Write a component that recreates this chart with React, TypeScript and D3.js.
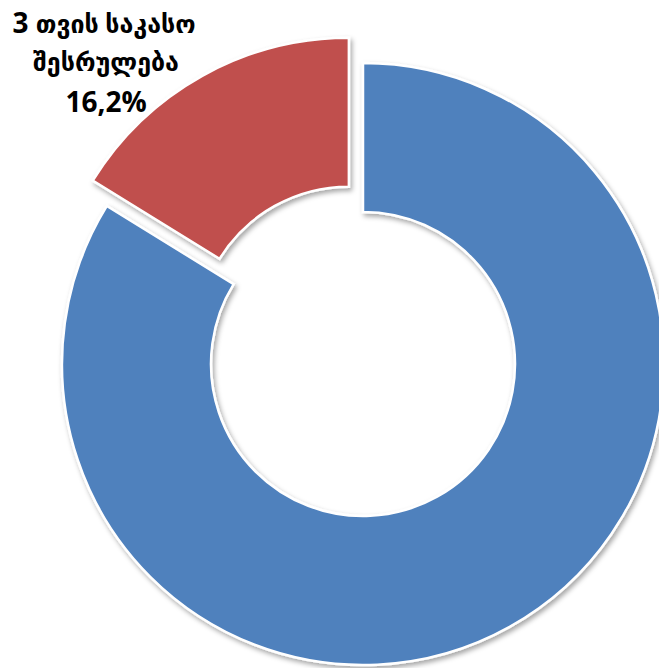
import React from "react";
import * as d3 from "d3";

// values
const categories = ["სხვა", "3 თვის საკასო შესრულება"];
const values = [83.8, 16.2];
const colors = ["#4F81BD", "#C0504D"];
const labelNumber = "3";
const labelLines = ["თვის საკასო", "შესრულება", "16,2%"];

const W = 659;
const H = 668;

function App() {
  const cx = 363;
  const cy = 364;
  const outer = 301;
  const inner = 152;
  const explode = 29;

  const pie = d3
    .pie<number>()
    .sort(null)
    .value((d) => d)
    .startAngle(0)
    .endAngle(2 * Math.PI);
  const arcs = pie(values);
  const arcGen = d3.arc<d3.PieArcDatum<number>>().innerRadius(inner).outerRadius(outer);

  return (
    <div style={{ position: "absolute", left: 0, top: 0, width: W, height: H }}>
      <svg width={W} height={H} style={{ display: "block" }}>
        <defs>
          <filter id="shadow" x="-20%" y="-20%" width="140%" height="140%">
            <feDropShadow dx="2" dy="3" stdDeviation="2.5" floodColor="#000" floodOpacity="0.35" />
          </filter>
        </defs>
        <g transform={`translate(${cx},${cy})`}>
          {arcs.map((a, i) => {
            // only the small slice is pulled out
            const mid = (a.startAngle + a.endAngle) / 2;
            const off = i === 1 ? explode : 0;
            const dx = Math.sin(mid) * off;
            const dy = -Math.cos(mid) * off;
            return (
              <path
                key={categories[i]}
                d={arcGen(a) || ""}
                transform={`translate(${dx},${dy})`}
                fill={colors[i]}
                stroke="#fff"
                strokeWidth={2.5}
                filter="url(#shadow)"
              />
            );
          })}
        </g>
        <g
          fontFamily="'Open Sans', 'DejaVu Sans', sans-serif"
          fontWeight="bold"
          fill="#000"
          textAnchor="middle"
        >
          <text x={104} y={33}>
            <tspan fontSize={28}>{labelNumber} </tspan>
            <tspan fontSize={25}>{labelLines[0]}</tspan>
          </text>
          <text x={106} y={71} fontSize={25}>
            {labelLines[1]}
          </text>
          <text x={106} y={112} fontSize={28}>
            {labelLines[2]}
          </text>
        </g>
      </svg>
    </div>
  );
}

export default App;
